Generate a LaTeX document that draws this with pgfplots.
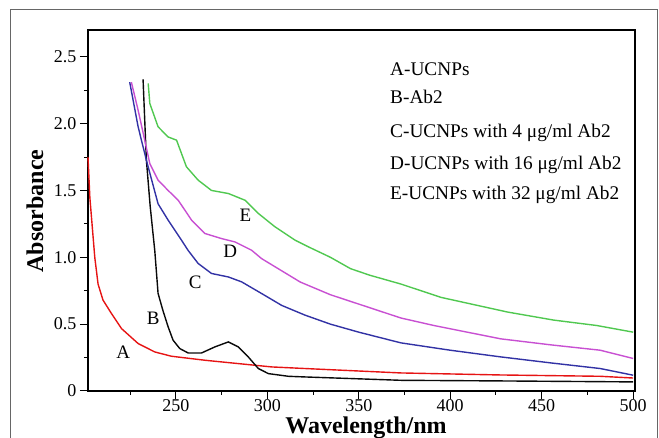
\documentclass[border=0pt]{standalone}
\usepackage{fontspec}
\setmainfont{Liberation Serif}
\usepackage{pgfplots}
\pgfplotsset{compat=1.18}
\definecolor{cA}{RGB}{230,20,20}
\definecolor{cB}{RGB}{10,10,10}
\definecolor{cC}{RGB}{50,50,165}
\definecolor{cD}{RGB}{200,80,210}
\definecolor{cE}{RGB}{80,200,80}
\begin{document}
\begin{tikzpicture}[x=1pt,y=1pt]
\useasboundingbox (0,0) rectangle (659,438);
\draw[gray!80!black,line width=1pt] (10,-2) -- (10,428) -- (657,428) -- (657,-2);
\begin{axis}[
  at={(88pt,47pt)}, anchor=south west,
  scale only axis, width=547pt, height=361pt,
  xmin=202, xmax=501, ymin=0, ymax=2.7,
  axis line style={line width=1.6pt},
  tick style={line width=1pt,black},
  tick align=outside,
  xtick pos=bottom, ytick pos=left,
  xtick={250,300,350,400,450,500},
  minor xtick={225,275,325,375,425,475},
  ytick={0,0.5,1,1.5,2,2.5},
  yticklabels={0,0.5,1.0,1.5,2.0,2.5},
  minor ytick={0.25,0.75,1.25,1.75,2.25},
  major tick length=8pt, minor tick length=4pt,
  /pgf/number format/assume math mode=true,
  ticklabel style={font=\fontsize{18}{20}\selectfont},
  xticklabel style={yshift=3pt},
  yticklabel style={xshift=0pt},
  clip=false,
  every axis plot/.append style={line width=1.4pt},
]
\addplot[cA] coordinates {
(202,1.75)(203,1.45)(204.5,1.2)(205.7,1.0)(207.5,0.80)(210.2,0.68)(214.8,0.58)(220.3,0.467)(229.4,0.355)(238.5,0.292)(247.6,0.26)(265.9,0.23)(284.1,0.205)(302.4,0.18)(320.7,0.168)(373,0.135)(427,0.12)(482,0.11)(500,0.097)};
\addplot[cB] coordinates {
(232.1,2.33)(233.9,1.73)(236,1.38)(238.5,1.05)(240.3,0.73)(243,0.60)(245.8,0.48)(248.5,0.38)(252.2,0.317)(256.8,0.284)(264,0.284)(271.4,0.33)(278.7,0.367)(284.1,0.33)(289.6,0.255)(295.1,0.168)(300.6,0.13)(311.5,0.11)(320.7,0.105)(373,0.08)(430,0.075)(500,0.068)};
\addplot[cC] coordinates {
(224.8,2.31)(229.4,1.976)(233.9,1.727)(240.3,1.40)(245.8,1.278)(253.1,1.128)(256.8,1.05)(262.2,0.954)(269.5,0.879)(278.7,0.853)(286,0.816)(296.9,0.729)(307.9,0.64)(320.7,0.567)(334.5,0.50)(350,0.44)(373,0.36)(400,0.305)(427.6,0.255)(455,0.21)(482,0.168)(500,0.118)};
\addplot[cD] coordinates {
(225.7,2.31)(229.4,2.10)(233,1.876)(235.8,1.70)(240.3,1.577)(245.8,1.50)(251.3,1.427)(258.6,1.278)(265.9,1.178)(275,1.14)(282.3,1.115)(291.4,1.053)(296.9,0.99)(318,0.815)(334.5,0.72)(350,0.65)(373,0.546)(391,0.49)(427.6,0.39)(455,0.345)(482,0.305)(500,0.243)};
\addplot[cE] coordinates {
(234.9,2.30)(235.8,2.15)(240.3,1.976)(245.8,1.90)(250.4,1.876)(255.8,1.677)(262.2,1.577)(269.5,1.50)(278.7,1.477)(287.8,1.427)(295.1,1.328)(304.2,1.228)(315.2,1.128)(322.5,1.078)(334.5,1.0)(345.5,0.915)(356,0.866)(373,0.80)(395,0.70)(431.5,0.59)(456.7,0.53)(480,0.49)(500,0.44)};
\node[font=\fontsize{19}{20}\selectfont] at (axis cs:221.2,0.29) {A};
\node[font=\fontsize{19}{20}\selectfont] at (axis cs:237.6,0.544) {B};
\node[font=\fontsize{19}{20}\selectfont] at (axis cs:260.6,0.81) {C};
\node[font=\fontsize{19}{20}\selectfont] at (axis cs:279.8,1.046) {D};
\node[font=\fontsize{19}{20}\selectfont] at (axis cs:288,1.315) {E};
\end{axis}
\begin{scope}[every node/.style={anchor=base west,inner sep=0pt,font=\fontsize{19.3}{20}\selectfont}]
\node at (390,362) {A-UCNPs};
\node at (390,334) {B-Ab2};
\node at (390,300) {C-UCNPs with 4 μg/ml Ab2};
\node at (390,268) {D-UCNPs with 16 μg/ml Ab2};
\node at (390,238) {E-UCNPs with 32 μg/ml Ab2};
\end{scope}
\node[anchor=base,inner sep=0pt,font=\fontsize{24}{26}\selectfont\bfseries] at (366,4.5) {Wavelength/nm};
\node[anchor=base,rotate=90,inner sep=0pt,font=\fontsize{24}{26}\selectfont\bfseries] at (43,227) {Absorbance};
\end{tikzpicture}
\end{document}
